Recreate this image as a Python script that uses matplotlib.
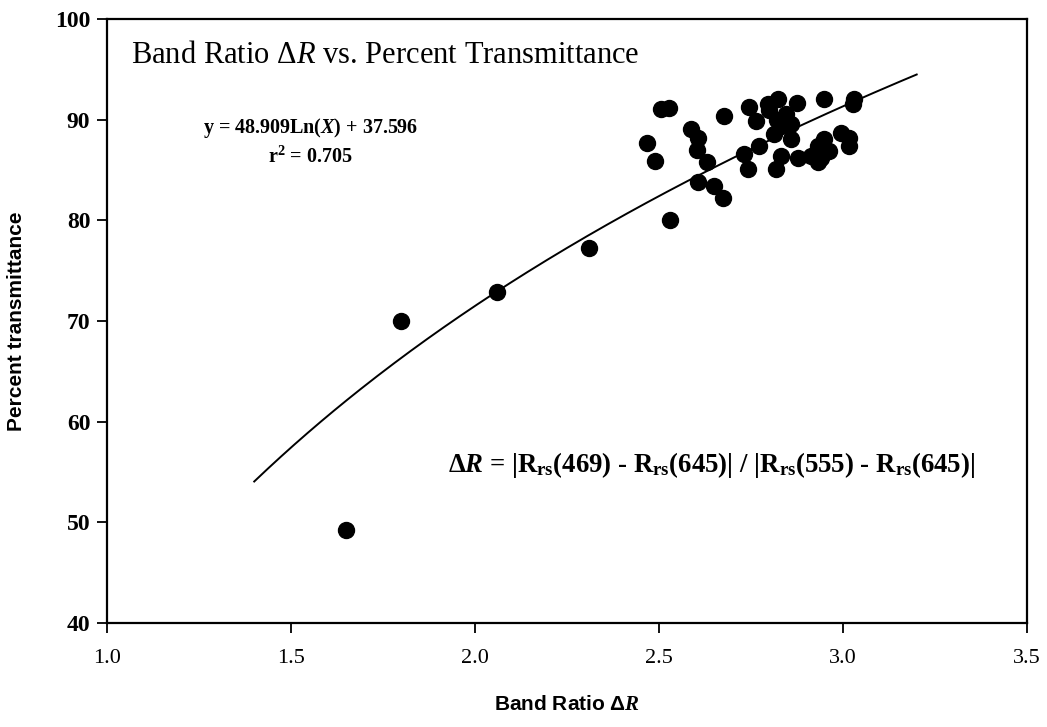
import numpy as np
import matplotlib
matplotlib.use("Agg")
import matplotlib.pyplot as plt

plt.rcParams['font.family'] = ['Liberation Serif', 'DejaVu Serif']
plt.rcParams['mathtext.fontset'] = 'custom'
plt.rcParams['mathtext.rm'] = 'Liberation Serif'
plt.rcParams['mathtext.it'] = 'Liberation Serif:italic'
plt.rcParams['mathtext.bf'] = 'Liberation Serif:bold'
plt.rcParams['mathtext.bfit'] = 'Liberation Serif:bold:italic'

# Band ratio vs percent transmittance
band_ratio = [1.65, 1.80, 2.06, 2.31, 2.53, 2.504, 2.526, 2.676, 2.466, 2.488,
              2.586, 2.605, 2.602, 2.630, 2.605, 2.648, 2.673, 2.730, 2.741,
              2.744, 2.763, 2.795, 2.823, 2.874, 2.844, 2.831, 2.858, 2.812,
              2.858, 2.771, 2.831, 2.817, 2.877, 2.912, 2.931, 2.948, 2.961,
              2.931, 2.940, 2.994, 3.016, 3.016, 2.948, 3.029, 3.027, 2.80,
              2.82]
transmittance = [49.2, 70.0, 72.9, 77.2, 80.0, 91.1, 91.2, 90.4, 87.7, 85.9,
                 89.1, 88.2, 87.0, 85.8, 83.8, 83.4, 82.2, 86.6, 85.1,
                 91.3, 89.9, 91.6, 92.1, 91.7, 90.6, 89.4, 89.6, 88.6,
                 88.1, 87.4, 86.4, 85.1, 86.2, 86.4, 87.4, 88.1, 86.9,
                 85.8, 86.2, 88.7, 88.2, 87.4, 92.1, 92.1, 91.6, 91.0,
                 90.0]

# log fit reported in the figure
fit_a, fit_b = 48.909, 37.596
fit_x = np.linspace(1.4, 3.2, 200)
fit_y = fit_a * np.log(fit_x) + fit_b

fig = plt.figure(figsize=(10.47, 7.27), dpi=100)
ax = fig.add_axes([0.1022, 0.1431, 0.8788, 0.8308])

ax.plot(fit_x, fit_y, color='black', linewidth=1.4)
ax.plot(band_ratio, transmittance, 'o', color='black', markersize=11.5)

ax.set_xlim(1.0, 3.5)
ax.set_ylim(40, 100)
ax.set_xticks([1.0, 1.5, 2.0, 2.5, 3.0, 3.5])
ax.set_xticklabels(['1.0', '1.5', '2.0', '2.5', '3.0', '3.5'])
ax.set_yticks([40, 50, 60, 70, 80, 90, 100])
ax.tick_params(direction='out', length=7, width=1.3)
ax.tick_params(axis='x', labelsize=16, pad=12)
ax.tick_params(axis='y', labelsize=17, pad=5)
for lab in ax.get_yticklabels():
    lab.set_fontweight('bold')
for sp in ax.spines.values():
    sp.set_linewidth(1.6)

sans = ['Liberation Sans Narrow', 'Liberation Sans', 'DejaVu Sans']
ax.set_ylabel('Percent transmittance', fontsize=15, fontweight='bold',
              family=sans)
ax.yaxis.set_label_coords(-0.088, 0.5)
ax.set_xlabel(r'Band Ratio Δ$\mathbfit{R}$', fontsize=15, fontweight='bold',
              family=sans)
ax.xaxis.set_label_coords(0.5, -0.12)

ax.text(0.026, 0.94, r'Band Ratio Δ$\mathit{R}$ vs. Percent Transmittance',
        transform=ax.transAxes, fontsize=22, ha='left', va='center')
ax.text(0.221, 0.82, r'y = 48.909Ln($\mathbfit{X}$) + 37.596',
        transform=ax.transAxes, fontsize=14.5, fontweight='bold',
        ha='center', va='center')
ax.text(0.221, 0.771, r'r$^\mathbf{2}$ = 0.705',
        transform=ax.transAxes, fontsize=14.5, fontweight='bold',
        ha='center', va='center')
ax.text(0.943, 0.262,
        r'Δ$\mathbfit{R}$ = |$\mathbf{R_{rs}}$(469) - $\mathbf{R_{rs}}$(645)| / '
        r'|$\mathbf{R_{rs}}$(555) - $\mathbf{R_{rs}}$(645)|',
        transform=ax.transAxes, fontsize=19.3, fontweight='bold',
        ha='right', va='center')

fig.savefig('out.png', dpi=100)
